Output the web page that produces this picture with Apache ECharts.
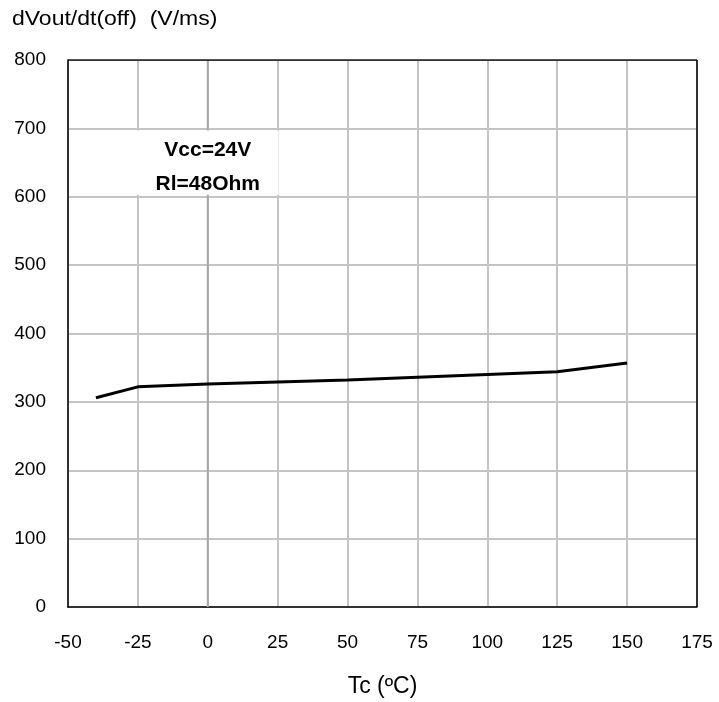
<!DOCTYPE html>
<html><head><meta charset="utf-8">
<script src="https://cdn.jsdelivr.net/npm/echarts@6/dist/echarts.min.js"></script>
<style>html,body{margin:0;padding:0;background:#fff}#c{width:719px;height:702px}</style>
</head><body><div id="c"></div>
<script>
const tempC = [-40, -25, 0, 25, 50, 75, 100, 125, 150];
const dvdtOff = [306, 322, 326, 329, 332, 336, 340, 344, 357];
const yTitle = 'dVout/dt(off)  (V/ms)';
const xTitle = 'Tc (ºC)';
const noteLines = ['Vcc=24V', 'Rl=48Ohm'];
const F = '"Liberation Sans", Arial, sans-serif';
const chart = echarts.init(document.getElementById('c'));
chart.setOption({
  animation: false,
  grid: {left: 68, right: 22, top: 60, bottom: 95, containLabel: false, outerBoundsMode: 'none'},
  xAxis: {
    type: 'value', min: -50, max: 175, interval: 25,
    name: xTitle, nameLocation: 'middle', nameGap: 68,
    nameTextStyle: {fontFamily: F, fontSize: 23, color: '#000'},
    axisLine: {show: true, onZero: false, lineStyle: {color: '#000', width: 1.5}},
    axisTick: {show: false},
    axisLabel: {fontFamily: F, fontSize: 19, color: '#000', margin: 26},
    splitLine: {show: true, lineStyle: {color: '#c4c4c4', width: 2}}
  },
  yAxis: {
    type: 'value', min: 0, max: 800, interval: 100,
    axisLine: {show: true, onZero: false, lineStyle: {color: '#000', width: 1.5}},
    axisTick: {show: false},
    axisLabel: {fontFamily: F, fontSize: 19, color: '#000', margin: 22},
    splitLine: {show: true, lineStyle: {color: '#c4c4c4', width: 2}}
  },
  series: [{
    type: 'line', data: [[0, 0], [0, 800]], showSymbol: false, silent: true, z: 1,
    lineStyle: {color: '#a8a8a8', width: 2}
  }, {
    type: 'line', data: tempC.map((t, i) => [t, dvdtOff[i]]),
    showSymbol: false, lineStyle: {color: '#000', width: 3}, z: 3
  }, {
    type: 'line', data: [[-50, 800], [175, 800]], showSymbol: false, silent: true,
    lineStyle: {color: '#000', width: 1.5}
  }, {
    type: 'line', data: [[175, 0], [175, 800]], showSymbol: false, silent: true,
    lineStyle: {color: '#000', width: 1.5}
  }]
});
const p1 = chart.convertToPixel({gridIndex: 0}, [-25, 700]);
const p2 = chart.convertToPixel({gridIndex: 0}, [25, 600]);
const cx = (p1[0] + p2[0]) / 2;
chart.setOption({
  graphic: [
    {type: 'text', x: 12, y: 9, scaleX: 1.15, style: {text: yTitle, font: '20px ' + F, fill: '#000'}},
    {type: 'rect', z: 99, shape: {x: p1[0] - 1, y: p1[1] + 2, width: p2[0] - p1[0] + 2, height: p2[1] - p1[1] - 4}, style: {fill: '#fff'}},
    {type: 'text', x: cx, y: p1[1] + 5, z: 100, style: {text: noteLines.join('\n'), font: 'bold 21px ' + F, lineHeight: 34, fill: '#000', textAlign: 'center'}}
  ]
});
</script></body></html>
